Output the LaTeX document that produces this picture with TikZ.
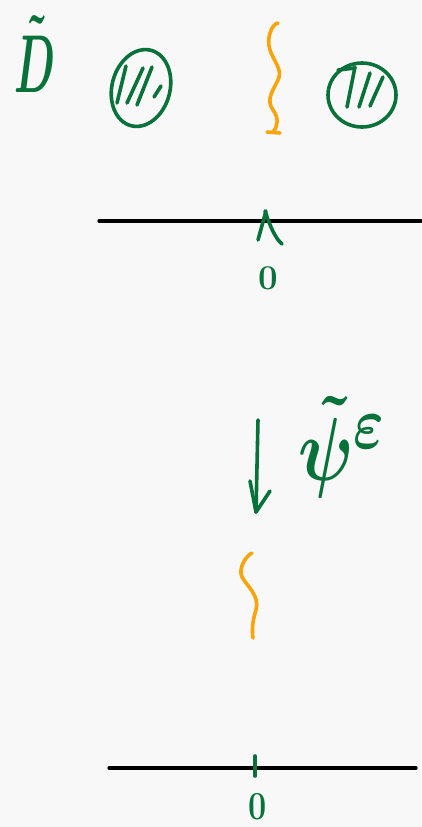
\documentclass[tikz,border=0pt]{standalone}
\usepackage{amsmath}
\usetikzlibrary{arrows.meta}
\definecolor{inkgreen}{RGB}{8,114,58}
\definecolor{inkorange}{RGB}{250,163,10}
\definecolor{paper}{RGB}{248,248,248}
\begin{document}
\begin{tikzpicture}[x=1pt,y=-1pt,
  pen/.style={line width=3.6pt,line cap=round,line join=round},
  gpen/.style={pen,draw=inkgreen},
  open/.style={pen,draw=inkorange},
  axis/.style={line width=3.2pt,line cap=round,draw=black},
  lbl/.style={text=inkgreen,inner sep=0pt,font=\Huge\boldmath\bfseries}]
\fill[paper] (0,0) rectangle (421,827);
\useasboundingbox (0,0) rectangle (421,827);
% label D tilde
\node[lbl,xscale=1.7,yscale=3.3] (D) at (35,54) {$\tilde D$};
% left blob
\draw[gpen] (141,88) ellipse [x radius=29, y radius=39, rotate=-15];
\draw[gpen] (127,103) -- (143,68);
\draw[gpen] (137,105) -- (152,67);
\draw[gpen] (154,97) -- (161,86);
\draw[gpen] (117,103) -- (126,66);
% right blob
\draw[gpen] (338,70) -- (355,68);
\draw[gpen] (362,95) ellipse [x radius=34, y radius=32];
\draw[gpen] (347,107) -- (355,67);
\draw[gpen] (359,107) -- (370,73);
\draw[gpen] (370,106) -- (383,77);
% orange wave top
\draw[open] (278,23) .. controls (272,24) and (266,38) .. (270,50)
  .. controls (274,62) and (283,70) .. (278,80)
  .. controls (272,92) and (266,100) .. (273,110)
  .. controls (279,118) and (278,126) .. (273,132);
\draw[open] (267,132) -- (280,133);
% axis 1
\coordinate (a1l) at (99,221);
\coordinate (a1r) at (421,221);
\draw[axis] (a1l) -- (a1r);
\draw[gpen] (266,211) -- (258,240);
\draw[gpen] (265,211) .. controls (270,226) and (275,238) .. (282,244);
\node[lbl,scale=1.4] (z1) at (268,278) {0};
% arrow
\coordinate (arS) at (258,420);
\coordinate (arE) at (256,512);
\draw[gpen] (arS) -- (arE);
\draw[gpen] (250,481) -- (256,512) -- (270,491);
\node[lbl,xscale=2.8,yscale=3.6] (psi) at (342,447) {$\tilde\psi^{\varepsilon}$};
% orange wave bottom
\draw[open] (252,553) .. controls (246,556) and (238,568) .. (242,577)
  .. controls (247,586) and (260,596) .. (256,610)
  .. controls (252,622) and (252,632) .. (253,638);
% axis 2
\coordinate (a2l) at (109,768);
\coordinate (a2r) at (416,768);
\draw[axis] (a2l) -- (a2r);
\draw[gpen] (255,756) -- (255,776);
\node[lbl,xscale=1.3,yscale=1.6] (z2) at (258,807) {0};
\end{tikzpicture}
\end{document}
